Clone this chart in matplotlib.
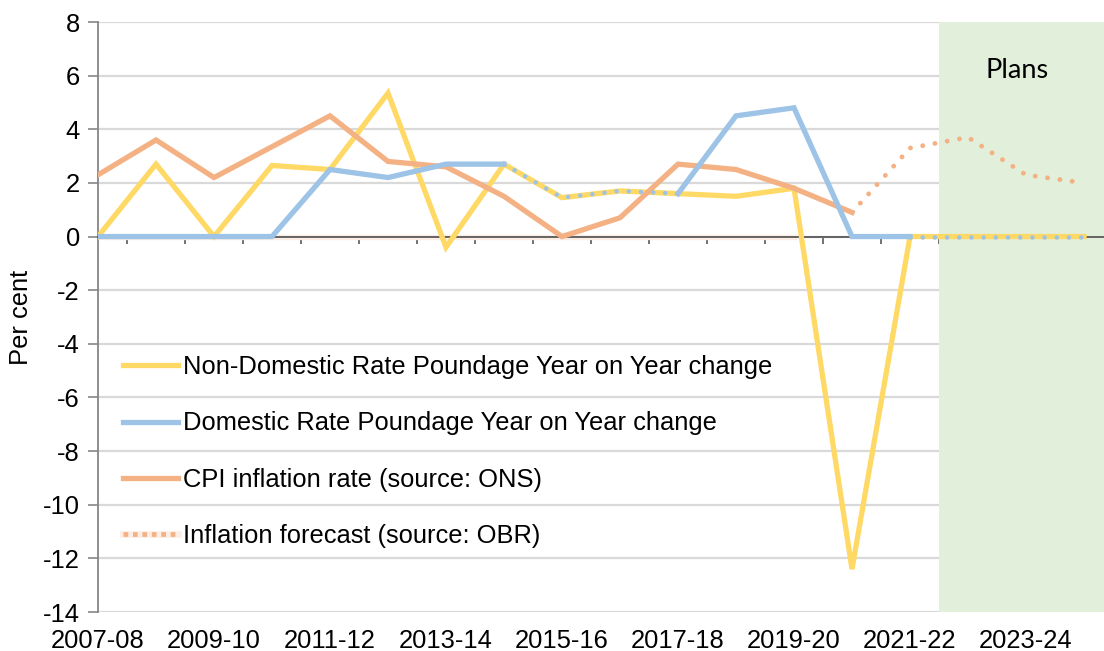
import numpy as np
import matplotlib
matplotlib.use('Agg')
import matplotlib.pyplot as plt
from matplotlib.lines import Line2D

YEARS = ['2007-08', '2008-09', '2009-10', '2010-11', '2011-12', '2012-13',
         '2013-14', '2014-15', '2015-16', '2016-17', '2017-18', '2018-19',
         '2019-20', '2020-21', '2021-22', '2022-23', '2023-24', '2024-25']

NON_DOMESTIC = [0.0, 2.7, 0.0, 2.65, 2.5, 5.35, -0.4, 2.7, 1.45, 1.7, 1.6,
                1.5, 1.8, -12.4, 0.0, 0.0, 0.0, 0.0]
DOMESTIC = [0.0, 0.0, 0.0, 0.0, 2.5, 2.2, 2.7, 2.7, 1.45, 1.7, 1.6,
            4.5, 4.8, 0.0, 0.0, 0.0, 0.0, 0.0]
CPI = [2.3, 3.6, 2.2, 3.35, 4.5, 2.8, 2.6, 1.5, 0.0, 0.7, 2.7, 2.5, 1.8, 0.9]
FORECAST_BASE = [0.0] * 13          # faint zero part of the OBR series
FORECAST = [0.9, 3.3, 3.7, 2.3, 2.0]  # 2020-21 .. 2024-25

# domestic series is drawn dotted where it equals the non-domestic one
DOM_SOLID_1 = (0, 8)
DOM_DOTTED_1 = (7, 11)
DOM_SOLID_2 = (10, 15)
DOM_DOTTED_2 = (14, 18)

PLANS_START = 14.5

YELLOW = '#FFD966'
BLUE = '#9DC3E6'
ORANGE = '#F4B183'
PINK = '#FCEEE5'
GREEN = '#E2EFDA'

plt.rcParams['font.family'] = ['Liberation Sans', 'DejaVu Sans']
plt.rcParams['axes.unicode_minus'] = False
FS = 18.4

W, H = 1104, 651
fig = plt.figure(figsize=(W / 100, H / 100), dpi=100)
ax = fig.add_axes([98 / W, 39 / H, (1113 - 98) / W, (612 - 22) / H])

x = np.arange(len(YEARS))
lw = 3.8

ax.axvspan(PLANS_START, len(YEARS) - 0.5, color=GREEN, zorder=1, lw=0)

ax.plot(x[:len(FORECAST_BASE)], FORECAST_BASE, color=PINK, lw=lw, zorder=2)
ax.plot(x, NON_DOMESTIC, color=YELLOW, lw=lw, zorder=4, solid_joinstyle='miter')
ax.plot(x[:len(CPI)], CPI, color=ORANGE, lw=lw, zorder=4, solid_joinstyle='miter')
dom = np.array(DOMESTIC)
for a, b in (DOM_SOLID_1, DOM_SOLID_2):
    ax.plot(x[a:b], dom[a:b], color=BLUE, lw=lw, zorder=5, solid_joinstyle='miter')
for a, b in (DOM_DOTTED_1, DOM_DOTTED_2):
    ax.plot(x[a:b], dom[a:b], color=BLUE, lw=3.3, zorder=6,
            linestyle=(0, (0.01, 2.65)), dash_capstyle='round')
fc_x = x[len(CPI) - 1:len(CPI) - 1 + len(FORECAST)]
ax.plot(fc_x, FORECAST, color=ORANGE, lw=3.5, zorder=6,
        linestyle=(0, (0.01, 2.55)), dash_capstyle='round')

ax.text(15.85, 6.2, 'Plans', family='Lato', fontsize=19.5, ha='center', va='center', zorder=7)

ax.set_xlim(0, len(YEARS) - 0.5)
ax.set_ylim(-14, 8)
ax.set_yticks(np.arange(-14, 9, 2))
ax.tick_params(axis='y', labelsize=FS, direction='out', length=7, color='#868686',
               width=1.2, pad=6)
ax.yaxis.grid(True, color='#D9D9D9', lw=1.6)
ax.set_axisbelow(True)
ax.set_ylabel('Per cent', fontsize=FS, labelpad=7)

for s in ('top', 'right'):
    ax.spines[s].set_visible(False)
ax.spines['left'].set_color('#868686')
ax.spines['left'].set_linewidth(1.3)
ax.spines['bottom'].set_position(('data', 0))
ax.spines['bottom'].set_color('#595959')
ax.spines['bottom'].set_linewidth(1.3)

# tick marks on the zero line, between categories
ax.set_xticks(x[:-1] + 0.5)
ax.set_xticklabels([])
ax.tick_params(axis='x', direction='out', length=5, color='#595959', width=1.2)

# category labels at the bottom of the plot
sec = ax.secondary_xaxis('bottom')
sec.set_xticks(x[::2], YEARS[::2])
sec.tick_params(length=0, labelsize=FS, pad=12)
sec.spines['bottom'].set_visible(False)

handles = [
    Line2D([], [], color=YELLOW, lw=lw),
    Line2D([], [], color=BLUE, lw=lw),
    Line2D([], [], color=ORANGE, lw=lw),
    (Line2D([], [], color=PINK, lw=lw + 1),
     Line2D([], [], color=ORANGE, lw=3.4, linestyle=(0, (1.0, 1.0)))),
]
labels = ['Non-Domestic Rate Poundage Year on Year change',
          'Domestic Rate Poundage Year on Year change',
          'CPI inflation rate (source: ONS)',
          'Inflation forecast (source: OBR)']
fig.legend(handles, labels, loc='upper left', bbox_to_anchor=(123 / W, 1 - 355 / H),
           frameon=False, fontsize=FS, borderpad=0, borderaxespad=0,
           handlelength=2.15, handletextpad=0.2, labelspacing=1.27)

fig.savefig('out.png', dpi=100)
